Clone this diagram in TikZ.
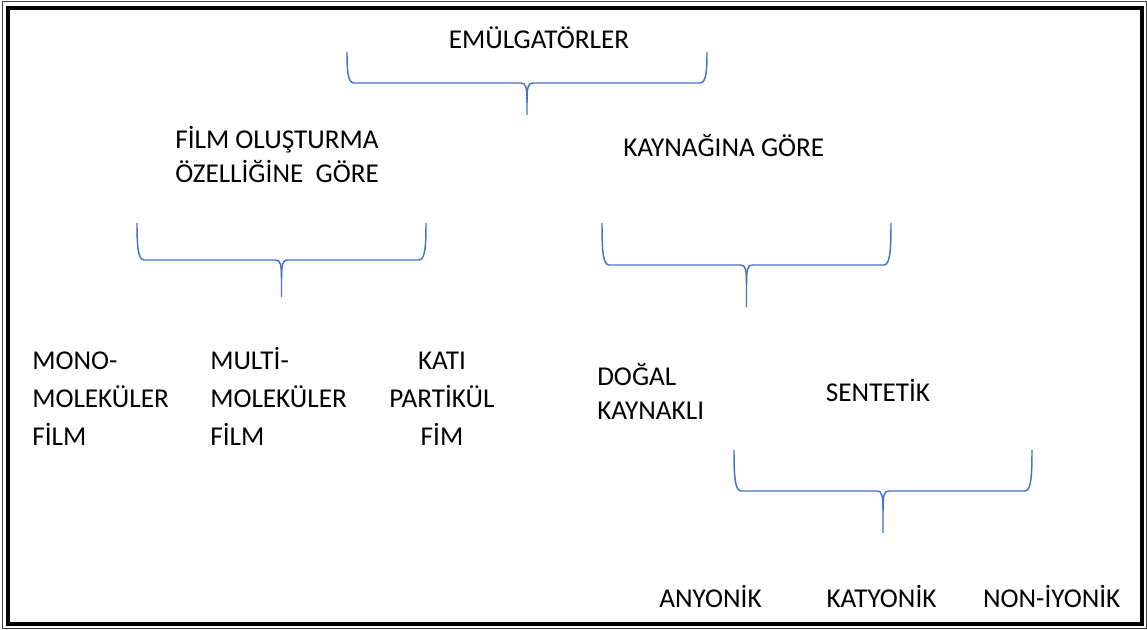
\documentclass[tikz,border=0pt]{standalone}
\usepackage{fontspec}
\setmainfont{Carlito}
\usepackage{tikz}
\definecolor{braceblue}{RGB}{68,114,196}

\begin{document}
\begin{tikzpicture}[x=0.75pt, y=-0.75pt,
      txt/.style={font=\fontsize{20.4}{25.5}\selectfont, inner sep=0pt, text=black},
      tall/.style={font=\fontsize{20.4}{28.5}\selectfont},
      brace_line/.style={draw=braceblue, line width=1.1pt, line join=round},
      frame_outer/.style={draw=black!75, line width=0.75pt},
      frame_inner/.style={draw=black, line width=3pt}
    ]

      % Fix the page size to the reference (pixel units)
      \useasboundingbox (0,0) rectangle (1147,630);

      % Double frame round the page
      \draw[frame_outer] (2,2) rectangle (1146,628.5);
      \draw[frame_inner] (8,8) rectangle (1142,624);

      % Headings
      \node[txt, anchor=base] (emulgator) at (539,49) {EMÜLGATÖRLER};
      \node[txt, anchor=base west, align=left] (film_prop) at (175,183) {FİLM OLUŞTURMA\\ÖZELLİĞİNE\ \ GÖRE};
      \node[txt, anchor=base west] (source) at (623,157) {KAYNAĞINA GÖRE};

      % Film forming classes
      \node[txt, tall, anchor=base west, align=left] (mono_film) at (32,446) {MONO-\\MOLEKÜLER\\FİLM};
      \node[txt, tall, anchor=base west, align=left] (multi_film) at (210,446) {MULTİ-\\MOLEKÜLER\\FİLM};
      \node[txt, tall, anchor=base, align=center] (solid_film) at (442,446) {KATI\\PARTİKÜL\\FİM};

      % Source classes
      \node[txt, anchor=base west, align=left] (natural) at (597,420) {DOĞAL\\KAYNAKLI};
      \node[txt, anchor=base] (synthetic) at (878,402) {SENTETİK};

      % Synthetic classes
      \node[txt, anchor=base] (anionic) at (710.5,608) {ANYONİK};
      \node[txt, anchor=base] (cationic) at (881.5,608) {KATYONİK};
      \node[txt, anchor=base] (nonionic) at (1051.7,608) {NON-İYONİK};

      % Curly braces: left x / right x / top y / bar y / tip y / name
      \foreach \xl/\xr/\yt/\yh/\yb/\nm in {347/707/52/83/115/brace_top,
                                           137/426/223/260/297/brace_film,
                                           602/891/223/265/307/brace_source,
                                           734/1032/450/491/533/brace_synth} {
        \pgfmathsetmacro{\xm}{(\xl+\xr)/2}
        \pgfmathsetmacro{\yc}{\yt+0.55*(\yh-\yt)}
        \coordinate (\nm) at (\xm,\yb);
        \draw[brace_line] (\xl,\yt) .. controls (\xl,\yc) and ({\xl+0.5},\yh) .. ({\xl+7},\yh)
          -- ({\xm-6},\yh) .. controls ({\xm-1},\yh) and (\xm,{\yh+4}) .. (\xm,{\yh+20}) -- (\nm);
        \draw[brace_line] (\xr,\yt) .. controls (\xr,\yc) and ({\xr-0.5},\yh) .. ({\xr-7},\yh)
          -- ({\xm+6},\yh) .. controls ({\xm+1},\yh) and (\xm,{\yh+4}) .. (\xm,{\yh+20});
      }

    \end{tikzpicture}
\end{document}
